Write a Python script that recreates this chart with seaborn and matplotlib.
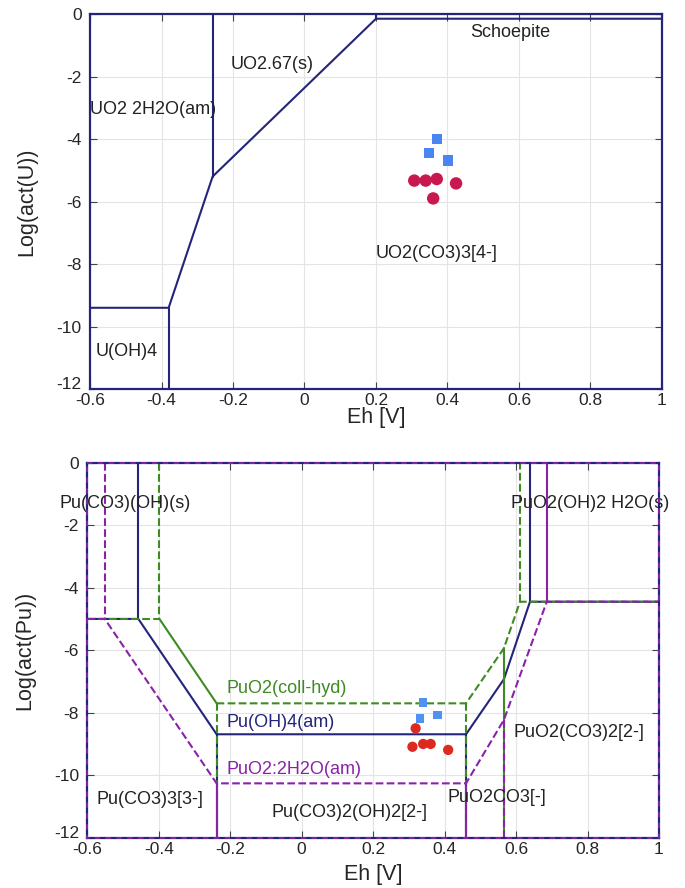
import numpy as np
import pandas as pd
import seaborn as sns
from matplotlib import pyplot as plt

# --- U diagram: boundary polylines (Eh [V], log act) ---
u_bounds = [
    ([-0.257, -0.257], [0, -5.2]),
    ([-0.6, -0.38, -0.257, 0.2, 1.0], [-9.4, -9.4, -5.2, -0.15, -0.15]),
    ([-0.38, -0.38], [-9.4, -12]),
    ([0.2, 0.2], [-0.15, 0]),
]
u_sq_eh = [0.370, 0.348, 0.401]
u_sq_log = [-4.01, -4.45, -4.69]
u_ci_eh = [0.307, 0.339, 0.370, 0.424, 0.360]
u_ci_log = [-5.33, -5.33, -5.28, -5.42, -5.90]
u_labels = ["UO2.67(s)", "Schoepite", "UO2 2H2O(am)", "UO2(CO3)3[4-]", "U(OH)4"]
u_label_eh = [-0.09, 0.575, -0.6, 0.37, -0.585]
u_label_log = [-1.6, -0.6, -3.07, -7.65, -10.8]

# --- Pu diagram ---
puoh4_solid = [
    ([-0.457, -0.457], [0, -5]),
    ([-0.6, -0.457, -0.238, 0.46, 0.566, 0.639, 1.0], [-5, -5, -8.69, -8.69, -6.93, -4.45, -4.45]),
    ([-0.238, -0.238], [-8.69, -12]),
    ([0.46, 0.46], [-8.69, -12]),
    ([0.639, 0.639], [-4.45, 0]),
]
coll_solid = [
    ([-0.398, -0.238], [-5, -7.7]),
    ([0.566, 0.566], [-5.94, -12]),
]
coll_dashed = [
    ([-0.398, -0.398], [0, -5]),
    ([-0.6, -0.398], [-5, -5]),
    ([-0.238, 0.46, 0.566, 0.611, 1.0], [-7.7, -7.7, -5.94, -4.45, -4.45]),
    ([-0.238, -0.238], [-7.7, -12]),
    ([0.46, 0.46], [-7.7, -12]),
    ([0.611, 0.611], [-4.45, 0]),
]
h2o_solid = [
    ([-0.238, -0.238], [-10.26, -12]),
    ([0.46, 0.46], [-10.26, -12]),
    ([0.686, 0.686], [-4.45, 0]),
]
h2o_dashed = [
    ([-0.551, -0.551], [0, -5]),
    ([-0.6, -0.551, -0.238, 0.46, 0.566, 0.686, 1.0], [-5, -5, -10.26, -10.26, -8.23, -4.45, -4.45]),
    ([0.566, 0.566], [-8.23, -12]),
]
pu_sq_eh = [0.340, 0.331, 0.380]
pu_sq_log = [-7.68, -8.18, -8.07]
pu_ci_eh = [0.319, 0.310, 0.340, 0.361, 0.410]
pu_ci_log = [-8.50, -9.09, -9.00, -9.00, -9.19]
pu_labels = ["Pu(CO3)(OH)(s)", "Pu(CO3)3[3-]", "Pu(CO3)2(OH)2[2-]", "PuO2CO3[-]",
             "PuO2(CO3)2[2-]", "PuO2(OH)2 H2O(s)"]
pu_label_eh = [-0.494, -0.425, 0.135, 0.546, 0.776, 0.807]
pu_label_log = [-1.3, -10.79, -11.18, -10.72, -8.64, -1.3]
phase_labels = ["PuO2(coll-hyd)", "Pu(OH)4(am)", "PuO2:2H2O(am)"]
phase_label_log = [-7.22, -8.32, -9.83]

xticks = [-0.6, -0.4, -0.2, 0, 0.2, 0.4, 0.6, 0.8, 1]
xtick_labels = ["-0.6", "-0.4", "-0.2", "0", "0.2", "0.4", "0.6", "0.8", "1"]
yticks = [0, -2, -4, -6, -8, -10, -12]

sns.set_theme(style="ticks")
plt.rcParams['font.family'] = ['Liberation Sans', 'DejaVu Sans']
plt.rcParams['axes.unicode_minus'] = False

navy = "#24247a"
green = "#3f8a22"
purple = "#8a22a8"

fig = plt.figure(figsize=(6.85, 8.88), dpi=100)
ax1 = fig.add_axes([0.1314, 0.5619, 0.835, 0.4223])
ax2 = fig.add_axes([0.1274, 0.0566, 0.8346, 0.4224])


def setup(ax, ylabel, xlab_y):
    ax.set_xlim(-0.6, 1)
    ax.set_ylim(-12, 0)
    ax.set_xticks(xticks)
    ax.set_xticklabels(xtick_labels)
    ax.set_yticks(yticks)
    ax.set_yticklabels([str(t) for t in yticks])
    ax.get_yticklabels()[-1].set_va("baseline")
    ax.grid(True, color="#e4e4e4", linewidth=0.8)
    ax.set_axisbelow(True)
    ax.tick_params(direction="in", top=True, right=True, length=5, width=0.8,
                   color="#444444", labelsize=12.5)
    ax.tick_params(axis="x", pad=3)
    ax.tick_params(axis="y", pad=6)
    for s in ax.spines.values():
        s.set_color(navy)
        s.set_linewidth(1.6)
    ax.set_xlabel("Eh [V]", fontsize=15.5)
    ax.set_ylabel(ylabel, fontsize=15.5)
    ax.xaxis.set_label_coords(0.5, xlab_y)
    ax.xaxis.label.set_va("center")
    ax.yaxis.set_label_coords(-0.110, 0.5)
    ax.yaxis.label.set_va("center")


def draw(ax, segs, color, ls="-"):
    for xs, ys in segs:
        sns.lineplot(x=xs, y=ys, sort=False, estimator=None, color=color,
                     linestyle=ls, linewidth=1.5, ax=ax)


# top: U
setup(ax1, "Log(act(U))", -0.075)
draw(ax1, u_bounds, navy)
sns.scatterplot(x=u_ci_eh, y=u_ci_log, marker="o", s=80, color="#c8184f",
                edgecolor="none", ax=ax1, zorder=5)
sns.scatterplot(x=u_sq_eh, y=u_sq_log, marker="s", s=55, color="#4a86f0",
                edgecolor="none", ax=ax1, zorder=5)
for t, ex, ly in zip(u_labels, u_label_eh, u_label_log):
    ha = "left" if t in ("UO2 2H2O(am)", "U(OH)4") else "center"
    ax1.text(ex, ly, t, fontsize=13, ha=ha, va="center", color="#222222")

# bottom: Pu
setup(ax2, "Log(act(Pu))", -0.097)
draw(ax2, puoh4_solid, navy)
draw(ax2, coll_solid, green)
draw(ax2, coll_dashed, green, "--")
draw(ax2, h2o_solid, purple)
draw(ax2, h2o_dashed, purple, "--")
ax2.plot([-0.6, 1, 1, -0.6, -0.6], [0, 0, -12, -12, 0], color=purple, linestyle=(0, (3, 3)),
         linewidth=1.3, clip_on=False, zorder=6)
sns.scatterplot(x=pu_ci_eh, y=pu_ci_log, marker="o", s=55, color="#dd2a20",
                edgecolor="none", ax=ax2, zorder=5)
sns.scatterplot(x=pu_sq_eh, y=pu_sq_log, marker="s", s=38, color="#4f92f2",
                edgecolor="none", ax=ax2, zorder=5)
for t, ex, ly in zip(pu_labels, pu_label_eh, pu_label_log):
    ax2.text(ex, ly, t, fontsize=13, ha="center", va="center", color="#222222")
for t, ly, c in zip(phase_labels, phase_label_log, [green, navy, purple]):
    ax2.text(-0.21, ly, t, fontsize=13, ha="left", va="center", color=c)

fig.savefig("out.png", dpi=100)
